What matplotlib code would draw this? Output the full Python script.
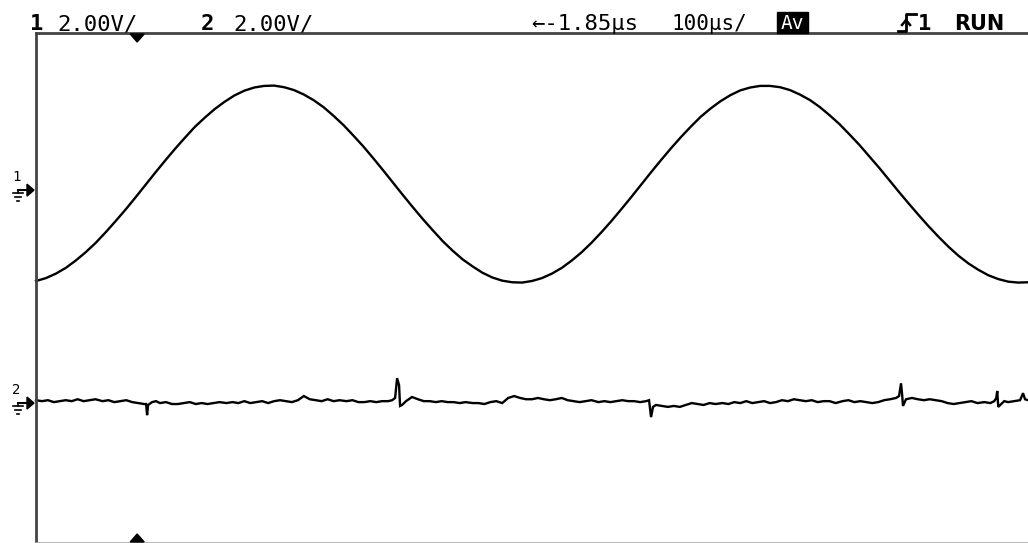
import matplotlib
matplotlib.use("Agg")
import matplotlib.pyplot as plt
from matplotlib.patches import Rectangle, Polygon

# ---------------- data ----------------
# Channel 1: time (µs) and voltage (V)
ch1_t = list(range(0, 1001, 10))
ch1_v = [-2.85, -2.76, -2.62, -2.44, -2.21, -1.95, -1.66, -1.33, -0.98, -0.62,
         -0.24, 0.15, 0.54, 0.92, 1.29, 1.64, 1.98, 2.27, 2.54, 2.77,
         2.97, 3.12, 3.22, 3.27, 3.28, 3.23, 3.14, 3.00, 2.82, 2.60,
         2.33, 2.04, 1.71, 1.37, 1.00, 0.62, 0.23, -0.16, -0.54, -0.91,
         -1.26, -1.60, -1.90, -2.17, -2.39, -2.59, -2.74, -2.84, -2.89, -2.90,
         -2.85, -2.76, -2.62, -2.44, -2.21, -1.95, -1.65, -1.32, -0.97, -0.60,
         -0.22, 0.17, 0.56, 0.94, 1.31, 1.66, 1.99, 2.30, 2.56, 2.79,
         2.98, 3.13, 3.22, 3.27, 3.27, 3.23, 3.14, 3.00, 2.83, 2.61,
         2.35, 2.07, 1.75, 1.42, 1.06, 0.70, 0.32, -0.06, -0.43, -0.79,
         -1.14, -1.47, -1.78, -2.06, -2.30, -2.50, -2.67, -2.79, -2.87, -2.90,
         -2.89]

# Channel 2: time (µs) and voltage (V)
ch2_t = [0, 6, 12, 18, 24, 30, 36, 42, 48, 54, 60, 67, 73, 79, 85, 91, 97, 103,
         109, 111, 112, 113, 117, 121, 125, 131, 137, 143, 149, 155, 161, 167,
         173, 179, 185, 192, 198, 204, 210, 216, 222, 228, 234, 240, 246, 252,
         258, 264, 270, 276, 282, 288, 294, 300, 306, 313, 319, 325, 331, 337,
         343, 349, 355, 359, 362, 364, 366, 367, 369, 373, 379, 385, 391, 397,
         403, 409, 415, 421, 427, 433, 440, 446, 452, 458, 464, 470, 476, 482,
         488, 494, 500, 506, 512, 518, 524, 530, 536, 542, 548, 554, 560, 567,
         573, 579, 585, 591, 597, 603, 609, 615, 618, 620, 622, 625, 631, 637,
         643, 649, 655, 661, 667, 673, 679, 685, 692, 698, 704, 710, 716, 722,
         728, 734, 740, 746, 752, 758, 764, 770, 776, 782, 788, 794, 800, 806,
         813, 819, 825, 831, 837, 843, 849, 855, 861, 867, 870, 872, 873, 874,
         877, 883, 889, 895, 901, 907, 913, 919, 925, 931, 937, 943, 949, 956,
         962, 966, 968, 969, 970, 972, 976, 980, 986, 992, 995, 997, 1000]
ch2_v = [0.09, 0.06, 0.09, 0.03, 0.06, 0.09, 0.06, 0.12, 0.06, 0.09, 0.12, 0.06,
         0.09, 0.03, 0.06, 0.09, 0.03, 0.00, -0.03, -0.03, -0.38, -0.06, 0.03,
         0.06, 0.00, 0.03, -0.03, -0.03, 0.00, 0.03, -0.03, 0.00, -0.03, 0.00,
         0.03, 0.00, 0.03, 0.00, 0.06, 0.00, 0.03, 0.06, 0.00, 0.06, 0.09, 0.06,
         0.03, 0.09, 0.22, 0.12, 0.09, 0.06, 0.12, 0.06, 0.09, 0.06, 0.09, 0.03,
         0.03, 0.06, 0.03, 0.06, 0.06, 0.09, 0.16, 0.78, 0.56, -0.09, -0.06,
         0.06, 0.19, 0.12, 0.06, 0.06, 0.03, 0.06, 0.03, 0.03, 0.00, 0.03, 0.00,
         0.00, -0.03, 0.03, 0.06, 0.00, 0.16, 0.22, 0.16, 0.12, 0.12, 0.16, 0.12,
         0.09, 0.12, 0.16, 0.09, 0.06, 0.03, 0.06, 0.09, 0.03, 0.06, 0.03, 0.06,
         0.09, 0.06, 0.06, 0.03, 0.06, 0.09, -0.44, -0.12, -0.06, -0.09, -0.12,
         -0.09, -0.12, -0.06, 0.00, -0.03, -0.06, 0.00, -0.03, 0.00, -0.03, 0.03,
         0.00, 0.06, 0.00, 0.03, 0.06, 0.00, 0.03, 0.09, 0.06, 0.12, 0.09, 0.06,
         0.09, 0.03, 0.06, 0.06, 0.00, 0.06, 0.09, 0.03, 0.06, 0.03, 0.00, 0.03,
         0.09, 0.12, 0.16, 0.22, 0.62, 0.31, -0.09, 0.12, 0.16, 0.12, 0.09, 0.12,
         0.09, 0.06, 0.00, -0.03, 0.00, 0.03, 0.06, 0.00, 0.03, 0.00, 0.06, 0.16,
         0.38, -0.12, -0.06, 0.06, 0.03, 0.06, 0.09, 0.31, 0.12, 0.09]

header_left = ["1", "2.00V/", "2", "2.00V/"]
header_right = ["←-1.85µs", "100µs/", "Av", "1", "RUN"]
trigger_time = 102  # µs

# ---------------- layout ----------------
W, H = 1028, 543
fig = plt.figure(figsize=(W / 100, H / 100), dpi=100)
fig.patch.set_facecolor("white")

ax_left, ax_top = 36, 33
ax = fig.add_axes([ax_left / W, 0, (W - ax_left) / W, (H - ax_top) / H])
ax.set_xlim(0, 1000)
ax.set_ylim(0, 16)
ax.set_xticks([])
ax.set_yticks([])
ax.patch.set_alpha(0)
ax.spines["right"].set_visible(False)
ax.spines["left"].set_color("#444444")
ax.spines["left"].set_linewidth(2.0)
ax.spines["top"].set_color("#444444")
ax.spines["top"].set_linewidth(2.0)
ax.spines["bottom"].set_color("#aaaaaa")
ax.spines["bottom"].set_linewidth(1.2)

OFF1 = 11.07  # screen position of channel 1 ground (V)
OFF2 = 4.39   # screen position of channel 2 ground (V)

ax.plot(ch1_t, [v + OFF1 for v in ch1_v], color="black", lw=1.7, clip_on=False)
ax.plot(ch2_t, [v + OFF2 for v in ch2_v], color="black", lw=1.7,
        solid_joinstyle="miter", clip_on=False)

# overlay in pixel coordinates (y up)
ov = fig.add_axes([0, 0, 1, 1], zorder=5)
ov.set_xlim(0, W)
ov.set_ylim(0, H)
ov.axis("off")
ov.patch.set_alpha(0)

fig.canvas.draw()
def px_of(t, v):
    x, y = ax.transData.transform((t, v))
    return x, y

mono = "DejaVu Sans Mono"
base = H - 30
ov.text(30, base, header_left[0], fontsize=16, fontweight="bold", family=mono, va="baseline")
ov.text(57, base, header_left[1], fontsize=16, family=mono, va="baseline")
ov.text(201, base, header_left[2], fontsize=16, fontweight="bold", family=mono, va="baseline")
ov.text(233, base, header_left[3], fontsize=16, family=mono, va="baseline")
ov.text(531, base, header_right[0], fontsize=16, family=mono, va="baseline")
ov.text(671, base, header_right[1], fontsize=15, family=mono, va="baseline")
ov.add_patch(Rectangle((777, H - 33), 31, 21, color="black"))
ov.text(792.5, base + 1, header_right[2], fontsize=14, family=mono, color="white",
        va="baseline", ha="center")
# rising edge trigger symbol
ov.plot([898, 906, 906, 916], [H - 31, H - 31, H - 14, H - 14], color="black", lw=2)
ov.plot([902, 906, 910], [H - 25, H - 20, H - 25], color="black", lw=1.8)
ov.text(918, base, header_right[3], fontsize=16, fontweight="bold", family=mono, va="baseline")
ov.text(954, base, header_right[4], fontsize=15, fontweight="bold", family="DejaVu Sans", va="baseline")

# trigger position markers
tx, _ = px_of(trigger_time, 0)
ov.add_patch(Polygon([[tx - 7, H - 34], [tx + 7, H - 34], [tx, H - 42]], color="black"))
ov.add_patch(Polygon([[tx - 7, 1], [tx + 7, 1], [tx, 9]], color="black"))

# channel ground markers
for label, off in (("1", OFF1), ("2", OFF2)):
    _, gy = px_of(0, off)
    ov.text(16, gy + 6, label, fontsize=10, family=mono, ha="center", va="bottom")
    ov.plot([18, 27], [gy, gy], color="black", lw=1.5)
    ov.add_patch(Polygon([[27, gy + 6], [27, gy - 6], [34, gy]], color="black"))
    ov.plot([18, 18], [gy, gy - 3], color="black", lw=1.2)
    ov.plot([13, 23], [gy - 3, gy - 3], color="black", lw=1.2)
    ov.plot([15, 21], [gy - 7, gy - 7], color="black", lw=1.2)
    ov.plot([17, 19], [gy - 11, gy - 11], color="black", lw=1.2)

fig.savefig("out.png", dpi=100)
